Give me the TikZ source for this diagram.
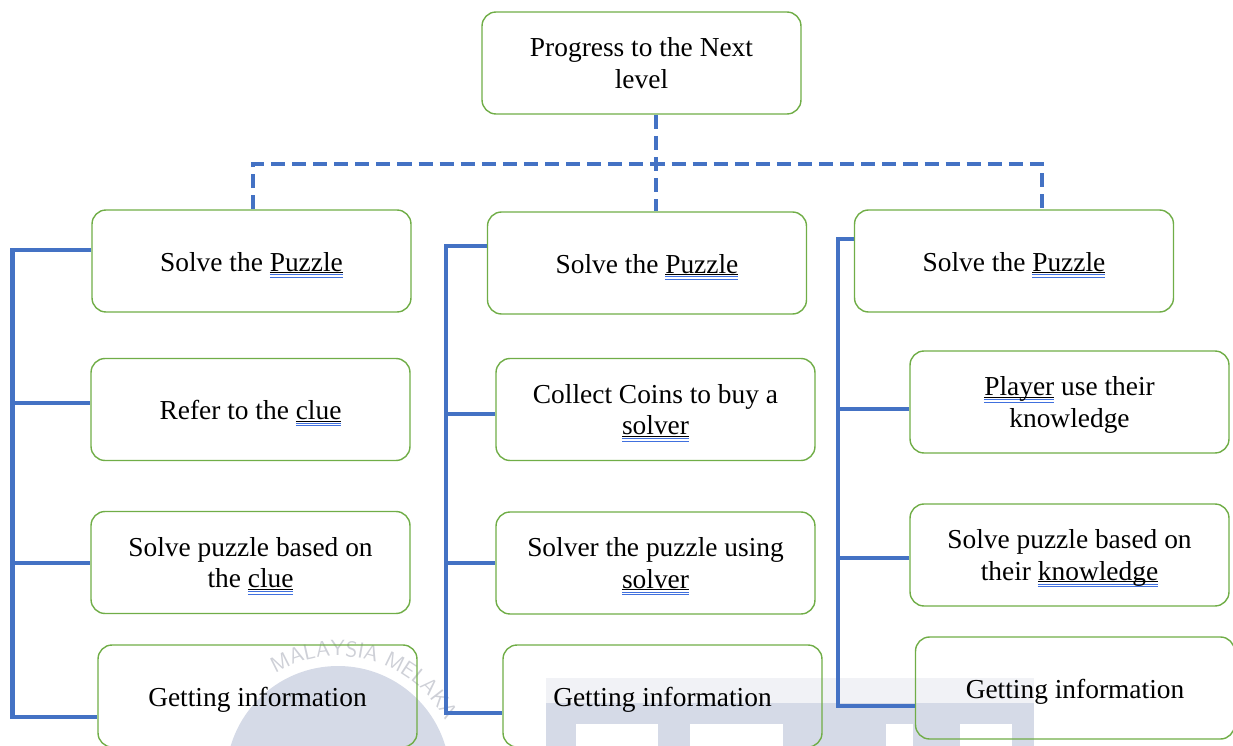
\documentclass[tikz,border=0pt]{standalone}
\usepackage{fontspec}
\setmainfont{Liberation Serif}
\usetikzlibrary{positioning,decorations.text}

\definecolor{boxgreen}{RGB}{112,173,71}
\definecolor{linkblue}{RGB}{68,114,196}
\definecolor{markblue}{RGB}{64,112,222}
\definecolor{wmshade}{RGB}{213,218,231}
\definecolor{wmlight}{RGB}{241,242,246}
\definecolor{wmtext}{RGB}{206,208,215}

% word with the proofing underlines
\newcommand{\flagged}[1]{%
  \setbox0=\hbox{#1}%
  \rlap{\rule[-1.1pt]{\wd0}{0.5pt}}%
  \rlap{\textcolor{markblue}{\rule[-2.4pt]{\wd0}{0.5pt}}}%
  \rlap{\textcolor{markblue}{\rule[-3.8pt]{\wd0}{0.5pt}}}%
  \box0\relax}

\tikzset{
  stage/.style={draw=boxgreen, line width=0.8pt, rounded corners=0.28cm,
    minimum width=6.38cm, minimum height=2.04cm, inner sep=0pt,
    align=center, font=\fontsize{15.6}{18}\selectfont},
  % struts so the text sits a little low in the box
  solo/.style={stage, execute at begin node={\rule{0pt}{15.5pt}},
    execute at end node={\rule[-4pt]{0pt}{4pt}}},
  pair/.style={stage, execute at begin node={\rule{0pt}{32.5pt}}},
  branch/.style={draw=linkblue, line width=2.8pt},
  link/.style={draw=linkblue, line width=2.8pt, dash pattern=on 8pt off 4pt},
}

\begin{document}
\begin{tikzpicture}[x=0.02cm,y=-0.02cm]
    \useasboundingbox (0,0) rectangle (1233,746);

    % faint seal in the background
    \begin{scope}
        \clip (0,0) rectangle (1233,746);
        \fill[wmlight] (546,678) rectangle (1034,703);
        \fill[wmshade] (546,703) rectangle (1034,746);
        \fill[white] (576,724) rectangle (658,746);
        \fill[white] (690,724) rectangle (783,746);
        \fill[white] (886,724) rectangle (913,746);
        \fill[white] (960,724) rectangle (1012,746);
        \fill[wmshade] (338,778) circle[radius=112];
        \path[decorate, decoration={text along path, text color=wmtext,
            text={|\sffamily\fontsize{12.5}{12.5}\selectfont|MALAYSIA MELAKA}}]
            (338,778) ++(-121:122) arc[start angle=-121, end angle=10, radius=122];
    \end{scope}

    \node[stage] (goal) at (641.5,63) {Progress to the Next\\level};

    \node[solo] (puzzA) at (251.5,261) {Solve the \flagged{Puzzle}};
    \node[solo] (clueA) at (250.5,409.5) {Refer to the \flagged{clue}};
    \node[pair] (basedA) at (250.5,562.5) {Solve puzzle based on\\the \flagged{clue}};
    \node[solo] (infoA) at (257.5,696) {Getting information};

    \node[solo] (puzzB) at (647,263) {Solve the \flagged{Puzzle}};
    \node[pair] (coinsB) at (655.5,409.5) {Collect Coins to buy a\\\flagged{solver}};
    \node[pair] (solverB) at (655.5,563) {Solver the puzzle using\\\flagged{solver}};
    \node[solo] (infoB) at (662.5,696) {Getting information};

    \node[solo] (puzzC) at (1014,261) {Solve the \flagged{Puzzle}};
    \node[pair] (playerC) at (1069.5,402) {\flagged{Player} use their\\knowledge};
    \node[pair] (knowC) at (1069.5,555) {Solve puzzle based on\\their \flagged{knowledge}};
    \node[solo] (infoC) at (1075,688) {Getting information};

    % dashed bus from the goal
    \coordinate (busL) at (253,164);
    \coordinate (busM) at (656,164);
    \coordinate (busR) at (1042,164);
    \draw[link] (goal.south -| busM) -- (puzzB.north -| busM);
    \draw[link] (puzzA.north -| busL) -- (busL) -- (busR) -- (puzzC.north -| busR);

    % left column
    \coordinate (spA) at (12.5,250);
    \coordinate (endA) at (12.5,717);
    \coordinate (jA2) at (12.5,403);
    \coordinate (jA3) at (12.5,563);
    \draw[branch] (puzzA.west |- spA) -- (spA) -- (endA) -- (infoA.west |- endA);
    \draw[branch] (jA2) -- (clueA.west |- jA2);
    \draw[branch] (jA3) -- (basedA.west |- jA3);

    % middle column
    \coordinate (spB) at (446,246);
    \coordinate (endB) at (446,713);
    \coordinate (jB2) at (446,414);
    \coordinate (jB3) at (446,563);
    \draw[branch] (puzzB.west |- spB) -- (spB) -- (endB) -- (infoB.west |- endB);
    \draw[branch] (jB2) -- (coinsB.west |- jB2);
    \draw[branch] (jB3) -- (solverB.west |- jB3);

    % right column
    \coordinate (spC) at (838,239);
    \coordinate (endC) at (838,706);
    \coordinate (jC2) at (838,409);
    \coordinate (jC3) at (838,558);
    \draw[branch] (puzzC.west |- spC) -- (spC) -- (endC) -- (infoC.west |- endC);
    \draw[branch] (jC2) -- (playerC.west |- jC2);
    \draw[branch] (jC3) -- (knowC.west |- jC3);
\end{tikzpicture}
\end{document}
